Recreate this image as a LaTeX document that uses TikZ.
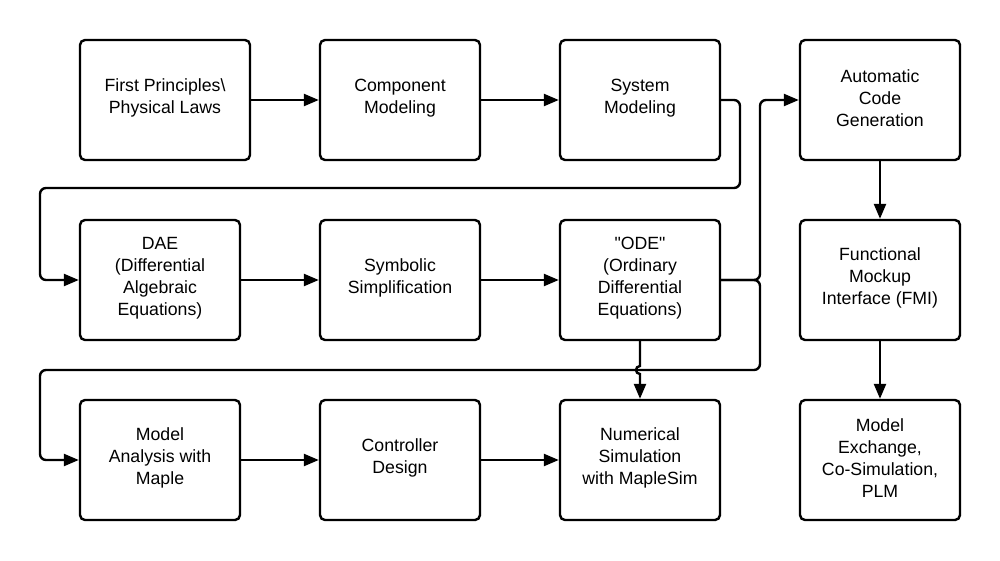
\documentclass[tikz,border=0pt]{standalone}
\usepackage{fontspec}
\setmainfont{Liberation Sans}[Ligatures=TeXOff]
\usetikzlibrary{arrows.meta}
\begin{document}
\begin{tikzpicture}[x=1pt,y=-1pt,
  box/.style={draw,line width=2.4pt,rounded corners=5pt,minimum width=160pt,minimum height=120pt,inner sep=0pt},
  txt/.style={align=center,font=\fontsize{17.7}{22}\selectfont,inner sep=0pt},
  conn/.style={line width=2.4pt,rounded corners=6pt,-{Triangle[length=15pt,width=12pt]}}]
\useasboundingbox (0,0) rectangle (1000,560);
% row 1
\node[box,minimum width=170pt] (fp) at (165,100) {};
\node[txt] (fpt) at (165,98) {First Principles\textbackslash\\Physical Laws};
\node[box] (cm) at (400,100) {};
\node[txt] (cmt) at (400,98) {Component\\Modeling};
\node[box] (sm) at (640,100) {};
\node[txt] (smt) at (640,98) {System\\Modeling};
\node[box] (acg) at (880,100) {};
\node[txt] (acgt) at (880,98) {Automatic\\Code\\Generation};
% row 2
\node[box] (dae) at (160,280) {};
\node[txt] (daet) at (160,278) {DAE\\(Differential\\Algebraic\\Equations)};
\node[box] (ss) at (400,280) {};
\node[txt] (sst) at (400,278) {Symbolic\\Simplification};
\node[box] (ode) at (640,280) {};
\node[txt] (odet) at (640,278) {"ODE"\\(Ordinary\\Differential\\Equations)};
\node[box] (fmi) at (880,280) {};
\node[txt] (fmit) at (880,278) {Functional\\Mockup\\Interface (FMI)};
% row 3
\node[box] (ma) at (160,460) {};
\node[txt] (mat) at (160,458) {Model\\Analysis with\\Maple};
\node[box] (cd) at (400,460) {};
\node[txt] (cdt) at (400,458) {Controller\\Design};
\node[box] (ns) at (640,460) {};
\node[txt] (nst) at (640,458) {Numerical\\Simulation\\with MapleSim};
\node[box] (me) at (880,460) {};
\node[txt] (met) at (880,458) {Model\\Exchange,\\Co-Simulation,\\PLM};
% turning points
\coordinate (t1) at (740,100);
\coordinate (t2) at (740,188);
\coordinate (t3) at (40,188);
\coordinate (t4) at (40,280);
\coordinate (u1) at (760,280);
\coordinate (u2) at (760,100);
\coordinate (v2) at (760,370);
\coordinate (v3) at (40,370);
\coordinate (v4) at (40,460);
\coordinate (h1) at (640,366);
\coordinate (h2) at (640,374);
% connectors
\draw[conn] (fp.east) -- (cm.west);
\draw[conn] (cm.east) -- (sm.west);
\draw[conn] (sm.east) -- (t1) -- (t2) -- (t3) -- (t4) -- (dae.west);
\draw[conn] (dae.east) -- (ss.west);
\draw[conn] (ss.east) -- (ode.west);
\draw[conn] (ode.east) -- (u1) -- (u2) -- (acg.west);
\draw[conn] (ode.east) -- (u1) -- (v2) -- (v3) -- (v4) -- (ma.west);
\draw[conn,rounded corners=0pt] (ode.south) -- (h1) .. controls (634.7,366) and (634.7,374) .. (h2) -- (ns.north);
\draw[conn] (ma.east) -- (cd.west);
\draw[conn] (cd.east) -- (ns.west);
\draw[conn] (acg.south) -- (fmi.north);
\draw[conn] (fmi.south) -- (me.north);
\end{tikzpicture}
\end{document}
